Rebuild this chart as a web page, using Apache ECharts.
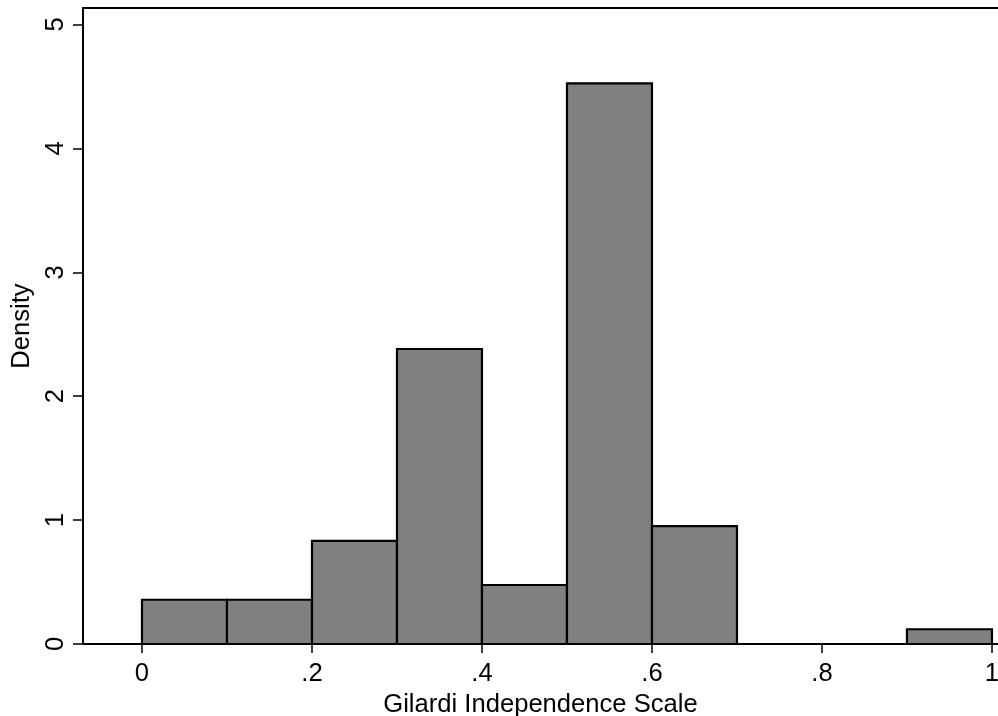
<!DOCTYPE html>
<html>
<head>
<meta charset="utf-8">
<script src="https://cdn.jsdelivr.net/npm/echarts@6/dist/echarts.min.js"></script>
<style>
html,body{margin:0;padding:0;background:#fff;}
#chart{width:998px;height:716px;}
</style>
</head>
<body>
<div id="chart"></div>
<script>
// Histogram bins (Gilardi Independence Scale) and densities
const binStarts = [0.0, 0.1, 0.2, 0.3, 0.4, 0.5, 0.6, 0.9];
const binEnds   = [0.1, 0.2, 0.3, 0.4, 0.5, 0.6, 0.7, 1.0];
const densities = [0.357, 0.357, 0.833, 2.381, 0.476, 4.524, 0.952, 0.119];

const xTickValues = [0, 0.2, 0.4, 0.6, 0.8, 1];
const xTickLabels = ['0', '.2', '.4', '.6', '.8', '1'];
const yTickValues = [0, 1, 2, 3, 4, 5];
const yTickLabels = ['0', '1', '2', '3', '4', '5'];

const xTitle = 'Gilardi Independence Scale';
const yTitle = 'Density';

const FONT = '"Liberation Sans", Arial, Helvetica, sans-serif';
const data = binStarts.map((s, i) => [s, binEnds[i], densities[i]]);

const chart = echarts.init(document.getElementById('chart'), null, {renderer: 'canvas'});
chart.setOption({
  backgroundColor: '#ffffff',
  animation: false,
  grid: {left: 83, right: 0, top: 8, bottom: 72, containLabel: false, outerBoundsMode: 'none'},
  xAxis: [{
    type: 'value',
    min: -0.0694, max: 1.0071,
    splitLine: {show: false},
    axisLine: {show: true, onZero: false, lineStyle: {color: '#000', width: 2}},
    axisTick: {show: true, length: 9, customValues: xTickValues, lineStyle: {color: '#000', width: 1.5}},
    axisLabel: {
      show: true, customValues: xTickValues, margin: 17,
      fontFamily: FONT, fontSize: 25.6, color: '#000',
      formatter: v => { const i = xTickValues.findIndex(t => Math.abs(t - v) < 1e-9); return i >= 0 ? xTickLabels[i] : ''; }
    },
    name: xTitle, nameLocation: 'middle', nameGap: 41,
    nameTextStyle: {fontFamily: FONT, fontSize: 25.6, color: '#000'}
  }, {
    type: 'value', position: 'top',
    min: -0.0694, max: 1.0071,
    splitLine: {show: false},
    axisLine: {show: true, onZero: false, lineStyle: {color: '#000', width: 2}},
    axisTick: {show: false}, axisLabel: {show: false}
  }],
  yAxis: {
    type: 'value',
    min: 0, max: 5.133,
    splitLine: {show: false},
    axisLine: {show: true, onZero: false, lineStyle: {color: '#000', width: 2}},
    axisTick: {show: true, length: 10, customValues: yTickValues, lineStyle: {color: '#000', width: 1.5}},
    axisLabel: {
      show: true, customValues: yTickValues, rotate: 90, margin: 14,
      fontFamily: FONT, fontSize: 25.6, color: '#000',
      formatter: v => { const i = yTickValues.findIndex(t => Math.abs(t - v) < 1e-9); return i >= 0 ? yTickLabels[i] : ''; }
    },
    name: yTitle, nameLocation: 'middle', nameGap: 45, nameRotate: 90,
    nameTextStyle: {fontFamily: FONT, fontSize: 25.6, color: '#000'}
  },
  series: [{
    type: 'custom',
    xAxisIndex: 0,
    data: data,
    encode: {x: [0, 1], y: 2},
    renderItem: function (params, api) {
      const p0 = api.coord([api.value(0), api.value(2)]);
      const p1 = api.coord([api.value(1), 0]);
      return {
        type: 'rect',
        shape: {x: p0[0], y: p0[1], width: p1[0] - p0[0], height: p1[1] - p0[1]},
        style: {fill: '#808080', stroke: '#000', lineWidth: 2.2}
      };
    }
  }]
});
</script>
</body>
</html>
